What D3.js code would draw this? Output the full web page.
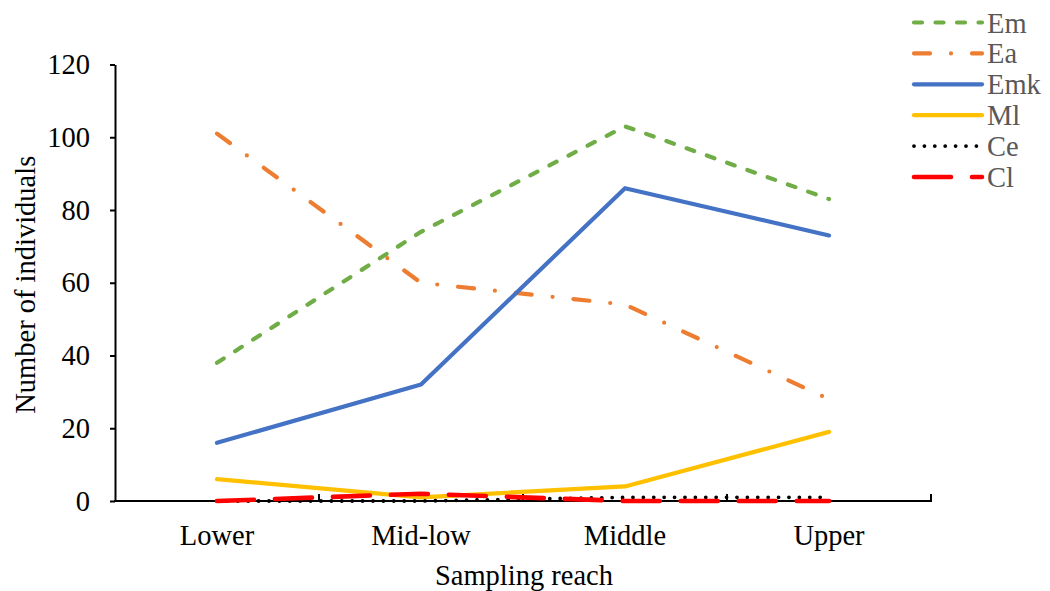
<!DOCTYPE html>
<html>
<head>
<meta charset="utf-8">
<script src="https://cdn.jsdelivr.net/npm/d3@7"></script>
<style>
  html, body { margin: 0; padding: 0; background: #fff; }
  svg { display: block; }
</style>
</head>
<body>
<svg id="chart" width="1050" height="591"></svg>
<script>
// Sampling reaches along the river
const categories = ["Lower", "Mid-low", "Middle", "Upper"];

// Number of individuals per species
const seriesNames = ["Em", "Ea", "Emk", "Ml", "Ce", "Cl"];
const emValues  = [38, 74, 103, 83];
const eaValues  = [101, 60, 54, 28];
const emkValues = [16, 32, 86, 73];
const mlValues  = [6, 1, 4, 19];
const ceValues  = [0, 0, 1, 1];
const clValues  = [0, 2, 0, 0];

const yTicks = [0, 20, 40, 60, 80, 100, 120];

const FONT = "'Liberation Serif', 'Times New Roman', 'DejaVu Serif', serif";
const FONT_SIZE = 28.5;

const styles = {
  Em:  { color: "#70AD47", width: 4.2, dash: "8 13.5" },
  Ea:  { color: "#ED7D31", width: 4.2, dash: "16 21 0 21" },
  Emk: { color: "#4472C4", width: 4.2, dash: null },
  Ml:  { color: "#FFC000", width: 4.2, dash: null },
  Ce:  { color: "#000000", width: 3.8, dash: "0 10.4" },
  Cl:  { color: "#FF0000", width: 4.6, dash: "37 21" }
};

const series = [
  { name: "Em",  values: emValues },
  { name: "Ea",  values: eaValues },
  { name: "Emk", values: emkValues },
  { name: "Ml",  values: mlValues },
  { name: "Ce",  values: ceValues },
  { name: "Cl",  values: clValues }
];

const svg = d3.select("#chart");
const plot = { left: 115, right: 931, top: 64.5, bottom: 501 };

const x = d3.scaleBand().domain(categories).range([plot.left, plot.right]);
const y = d3.scaleLinear().domain([0, 120]).range([plot.bottom, plot.top]);

// Y axis
const yAxis = svg.append("g")
  .attr("transform", `translate(${plot.left},0)`)
  .call(d3.axisLeft(y).tickValues(yTicks).tickSize(5).tickSizeOuter(0).tickPadding(20));
yAxis.select(".domain").attr("stroke", "#000").attr("stroke-width", 2);
yAxis.selectAll(".tick line").attr("stroke", "#000").attr("stroke-width", 2);
yAxis.selectAll(".tick text")
  .attr("fill", "#000")
  .attr("font-family", FONT)
  .attr("font-size", FONT_SIZE);

// X axis: category labels centred, boundary ticks pointing up
const xAxis = svg.append("g")
  .attr("transform", `translate(0,${plot.bottom})`);
xAxis.append("line")
  .attr("x1", plot.left - 1).attr("x2", plot.right + 1)
  .attr("stroke", "#000").attr("stroke-width", 2);
const boundaries = categories.map(c => x(c)).concat([x(categories[categories.length - 1]) + x.bandwidth()]).slice(1);
xAxis.selectAll(".xtick").data(boundaries).join("line")
  .attr("class", "xtick")
  .attr("x1", d => d).attr("x2", d => d)
  .attr("y1", 0).attr("y2", -7)
  .attr("stroke", "#000").attr("stroke-width", 2);
xAxis.selectAll(".xlabel").data(categories).join("text")
  .attr("class", "xlabel")
  .attr("x", d => x(d) + x.bandwidth() / 2)
  .attr("y", 44)
  .attr("text-anchor", "middle")
  .attr("font-family", FONT)
  .attr("font-size", FONT_SIZE)
  .attr("fill", "#000")
  .text(d => d);

// Axis titles
svg.append("text")
  .attr("x", (plot.left + plot.right) / 2 + 1)
  .attr("y", 585)
  .attr("text-anchor", "middle")
  .attr("font-family", FONT)
  .attr("font-size", FONT_SIZE)
  .text("Sampling reach");

svg.append("text")
  .attr("transform", `translate(35,${(plot.top + plot.bottom) / 2 + 2}) rotate(-90)`)
  .attr("text-anchor", "middle")
  .attr("font-family", FONT)
  .attr("font-size", FONT_SIZE)
  .text("Number of individuals");

// Series lines
const line = d3.line()
  .x((d, i) => x(categories[i]) + x.bandwidth() / 2)
  .y(d => y(d));

const lines = svg.append("g");
series.forEach(s => {
  const st = styles[s.name];
  lines.append("path")
    .datum(s.values)
    .attr("d", line)
    .attr("fill", "none")
    .attr("stroke", st.color)
    .attr("stroke-width", st.width)
    .attr("stroke-linecap", "round")
    .attr("stroke-linejoin", "round")
    .attr("stroke-dasharray", st.dash);
});

// Legend
const legend = svg.append("g");
const legendY = d3.scalePoint().domain(seriesNames).range([22.5, 177]);
seriesNames.forEach(n => {
  const st = styles[n];
  const g = legend.append("g").attr("transform", `translate(0,${legendY(n)})`);
  g.append("line")
    .attr("x1", 914).attr("x2", 982)
    .attr("stroke", st.color)
    .attr("stroke-width", st.width)
    .attr("stroke-linecap", "round")
    .attr("stroke-dasharray", st.dash);
  g.append("text")
    .attr("x", 987).attr("y", 10)
    .attr("fill", "#595959")
    .attr("font-family", FONT)
    .attr("font-size", FONT_SIZE)
    .text(n);
});
</script>
</body>
</html>
